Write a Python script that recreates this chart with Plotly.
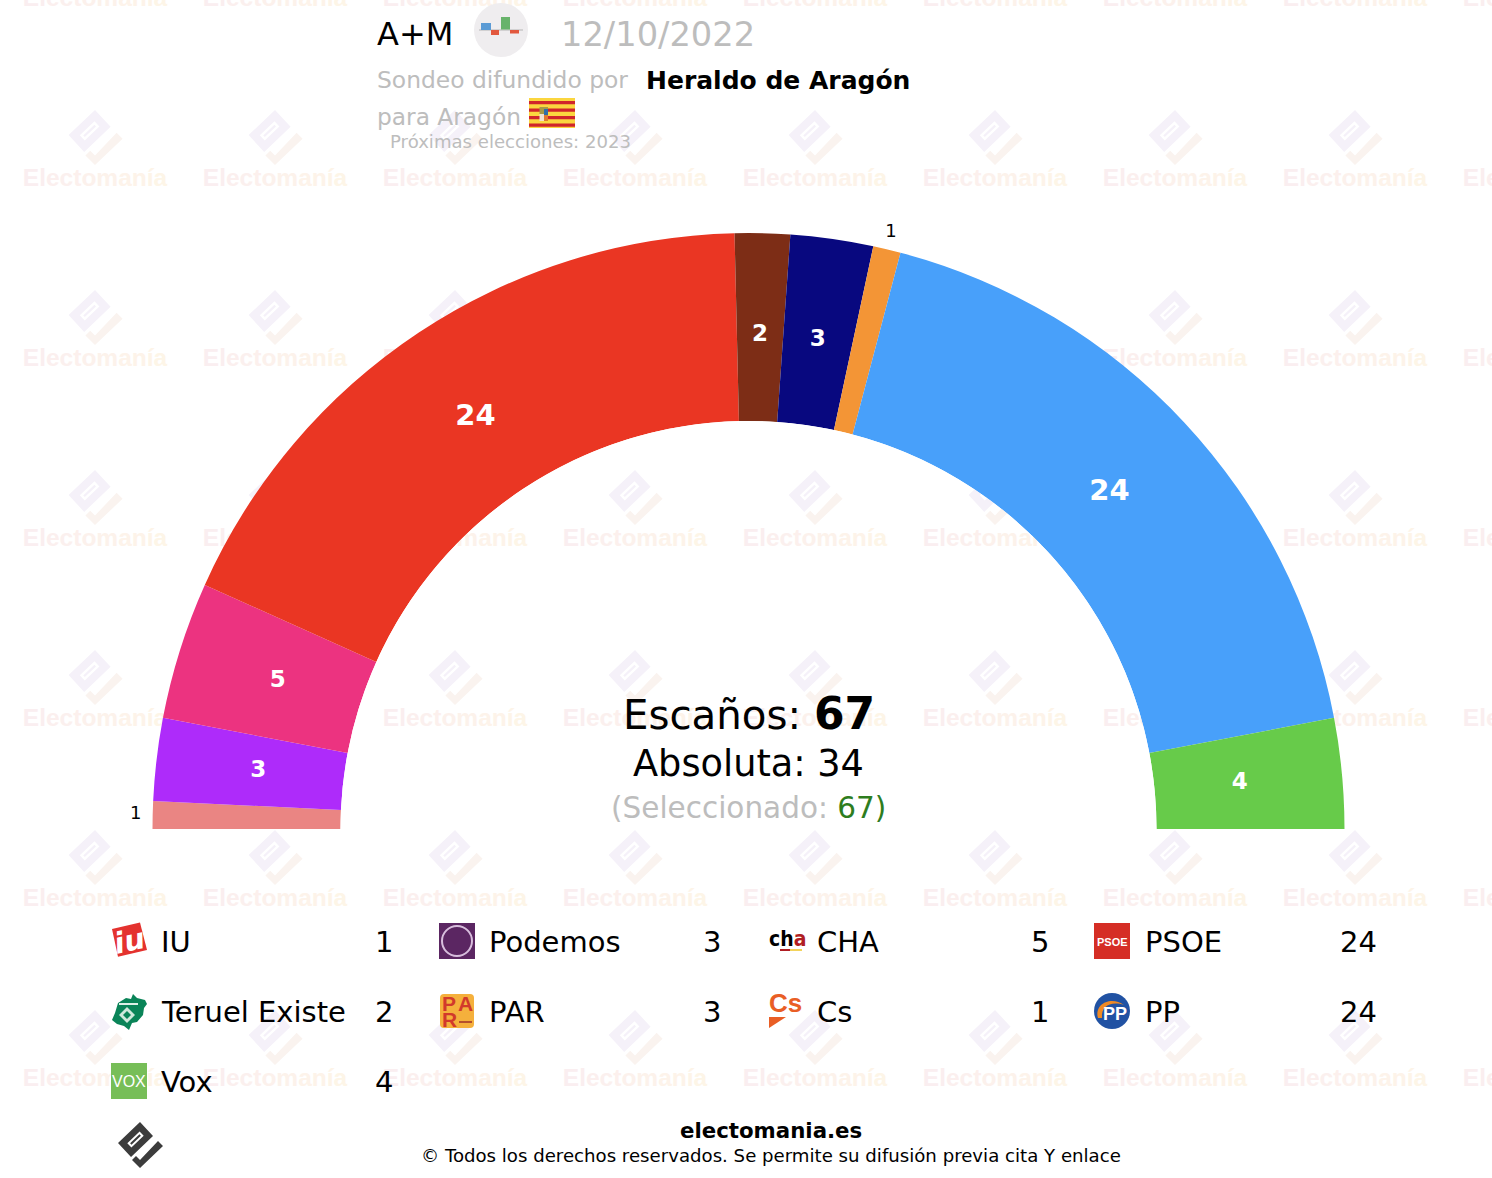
import plotly.graph_objects as go

partidos = ["IU", "Podemos", "CHA", "PSOE", "Teruel Existe", "PAR", "Cs", "PP", "Vox"]
escanos = [1, 3, 5, 24, 2, 3, 1, 24, 4]
colores = ["#EA8583", "#AE2BFA", "#EC3380", "#EA3623", "#7D2D16", "#08087F", "#F39536", "#48A0FA", "#67CB4A"]

encuestadora = "A+M"
fecha = "12/10/2022"
medio = "Heraldo de Aragón"
region = "Aragón"
proximas = "2023"
total = 67
absoluta = 34
seleccionado = 67

GRIS = "#BDBDBD"
FUENTE = "DejaVu Sans"

shapes = []
annotations = []


def texto(x, y, t, size, color="black", anchor="left", angle=0, font=FUENTE):
    annotations.append(dict(x=x, y=y, xref="x", yref="y", text=t, showarrow=False, xanchor=anchor,
                            yanchor="middle", textangle=angle, font=dict(family=font, size=size, color=color),
                            borderpad=0, borderwidth=0))


def caja(x0, y0, x1, y1, color):
    shapes.append(dict(type="rect", xref="x", yref="y", x0=x0, y0=y0, x1=x1, y1=y1,
                       fillcolor=color, line=dict(width=0), layer="above"))


def poligono(puntos, color):
    return dict(type="path", xref="x", yref="y", path=camino(puntos), fillcolor=color,
                line=dict(width=0), layer="above")


def camino(puntos):
    return "M" + " L".join(f"{x:.1f},{y:.1f}" for x, y in puntos) + " Z"


# logo de electomania: rombo con ranura y el "check" de abajo
def logo_partes(cx, cy, k):
    rombo = [(0, -23), (13, -9), (-9, 12), (-22, -2)]
    check = [(18, -4), (23, 1), (0, 23), (-8, 15), (-4, 11), (0, 15)]
    c = (-4.5, -5.5)
    a = (-0.72, 0.69)
    b = (0.69, 0.72)

    def ranura(la, an):
        return [(c[0] + s * la * a[0] + t * an * b[0], c[1] + s * la * a[1] + t * an * b[1])
                for s, t in [(1, 1), (1, -1), (-1, -1), (-1, 1)]]

    def mover(pts):
        return [(cx + k * x, cy + k * y) for x, y in pts]

    p1 = camino(mover(rombo)) + camino(mover(ranura(8.5, 3))) + camino(mover(ranura(6.5, 1)))
    p2 = camino(mover(check))
    return p1, p2


# marca de agua, va debajo del arco
wm_x = [95 + 180 * i for i in range(9)]
wm_y = [180 * j for j in range(7)]
grad = ["#FAEEF0", "#FAEEEF", "#FBEFEE", "#FBF0EE", "#FCF0ED", "#FCF1EC", "#FCF2EB", "#FDF3EA", "#FDF3E9", "#FDF4E8", "#FDF5E7"]
marca = "<b>" + "".join(f'<span style="color:{c}">{l}</span>' for l, c in zip("Electomanía", grad)) + "</b>"

tx, ty = [], []
rombos, checks = "", ""
for x in wm_x:
    for y in wm_y:
        tx.append(x)
        ty.append(y)
        if y > 0:
            p1, p2 = logo_partes(x, y - 42.5, 1.2)
            rombos += p1
            checks += p2

shapes.append(dict(type="path", xref="x", yref="y", path=rombos, fillcolor="#F5F1F9", line=dict(width=0), layer="below"))
shapes.append(dict(type="path", xref="x", yref="y", path=checks, fillcolor="#FAF3EF", line=dict(width=0), layer="below"))

fig = go.Figure()
fig.add_trace(go.Scatter(x=tx, y=ty, mode="text", text=[marca] * len(tx), textposition="middle center",
                         textfont=dict(family="Liberation Sans", size=24.5, color="#FBEFEA"),
                         hoverinfo="skip", showlegend=False))

# arco de escaños. El eje radial llega hasta 1.24 para que quepan los "1" de fuera
grados = [v * 180 / total for v in escanos]
medios = []
acum = 0
for g in grados:
    medios.append(acum + g / 2)
    acum += g

R_IN = 408
R_OUT = 596
R_MAX = 1.24
R_PX = R_IN + (R_OUT - R_IN) * R_MAX
CX = 748.5
CY = 829

fig.add_trace(go.Barpolar(r=[1] * len(escanos), base=0, theta=medios, width=grados,
                          marker=dict(color=colores, line=dict(width=0)), text=partidos,
                          hoverinfo="text", showlegend=False))

dentro = [i for i, v in enumerate(escanos) if v > 1]
fuera = [i for i, v in enumerate(escanos) if v == 1]
fig.add_trace(go.Scatterpolar(r=[0.455] * len(dentro), theta=[medios[i] for i in dentro], mode="text",
                              text=[f"<b>{escanos[i]}</b>" for i in dentro], cliponaxis=False,
                              textfont=dict(family=FUENTE, color="white", size=[29 if escanos[i] > 10 else 23 for i in dentro]),
                              hoverinfo="skip", showlegend=False))
fig.add_trace(go.Scatterpolar(r=[1.09] * len(fuera), theta=[medios[i] for i in fuera], mode="text",
                              text=[str(escanos[i]) for i in fuera], cliponaxis=False,
                              textfont=dict(family=FUENTE, color="black", size=18),
                              hoverinfo="skip", showlegend=False))

# cabecera
texto(377, 34, encuestadora, 32)
shapes.append(dict(type="circle", xref="x", yref="y", x0=474, y0=3, x1=528, y1=57, fillcolor="#EFEDEF", line=dict(width=0), layer="above"))
caja(479, 29.5, 523, 30.5, "#B5B5B5")
caja(481, 23, 491, 30, "#5B9BD5")
caja(491, 30, 499, 35, "#E2583E")
caja(501, 17, 510, 29.5, "#68B36B")
caja(510, 30, 519, 33.5, "#E2583E")
texto(561, 34, fecha, 33.7, GRIS)
texto(377, 80, "Sondeo difundido por", 23.4, GRIS)
texto(646, 80, f"<b>{medio}</b>", 25)
texto(377, 116, f"para {region}", 23.3, GRIS)
caja(529, 98, 575, 128, "#FBD63F")
for y in [101, 108.5, 116, 123.5]:
    caja(529, y, 575, y + 3.2, "#D0252B")
caja(539.5, 107, 548, 114, "#A89A45")
caja(544, 109, 548, 115, "#2F6FA8")
caja(544, 115, 548, 121, "#E07B2E")
caja(539.5, 114, 544, 121, "#F0E2D0")
texto(390, 141, f"Próximas elecciones: {proximas}", 18.1, GRIS)

# centro
texto(748.5, 713.5, f"Escaños: <b><span style='font-size:44px'>{total}</span></b>", 40.3, anchor="center")
texto(748.5, 763, f"Absoluta: {absoluta}", 36.7, anchor="center")
texto(748, 808, f"(Seleccionado: <span style='color:#2E7D1E'>{seleccionado})</span>", 29.5, GRIS, anchor="center")

# leyenda
col_icono = [111 + 328 * i for i in range(4)]
fila_y = [942, 1012, 1082]
for i, (p, v) in enumerate(zip(partidos, escanos)):
    cx = col_icono[i % 4]
    y = fila_y[i // 4]
    texto(cx + 50, y, p, 29)
    texto(cx + 282, y, str(v), 29, anchor="right")

# iconos de los partidos
shapes.append(poligono([(112, 929), (140, 922.5), (147, 950), (118, 956.7)], "#E4322F"))
texto(129, 941, "<b><i>iu</i></b>", 29, "white", anchor="center", angle=-12)

caja(439, 923, 475, 959, "#5B2662")
shapes.append(dict(type="circle", xref="x", yref="y", x0=442, y0=926, x1=472, y1=956, fillcolor="rgba(0,0,0,0)",
                   line=dict(width=2, color="#D8BEDD"), layer="above"))

annotations.append(dict(x=767, y=939, xref="x", yref="y", xanchor="left", yanchor="middle", showarrow=False,
                        text="<b>ch<span style='color:#B01E23'>a</span></b>",
                        font=dict(family="DejaVu Sans Condensed, DejaVu Sans", size=21, color="black")))
caja(780, 949, 790, 951, "#B01E23")
caja(790, 949, 802, 951, "#F3D35B")

caja(1094, 923, 1130, 959, "#D52E25")
texto(1112, 942, "<b>PSOE</b>", 11, "white", anchor="center", font="Liberation Sans")

shapes.append(poligono([(112, 1020), (115, 1013), (118, 1003), (126, 998), (131, 999), (133, 994), (137, 998), (145, 1000),
                        (147, 1004), (144, 1008), (143, 1015), (137, 1022), (132, 1023), (129, 1030), (124, 1026), (117, 1024)], "#0A8458"))
caja(119, 1003, 138, 1005, "#DDEFE6")
shapes.append(poligono([(127, 1007), (135, 1015), (127, 1023), (119, 1015)], "#CFE8DB"))
shapes.append(poligono([(127, 1011), (131, 1015), (127, 1019), (123, 1015)], "#0A8458"))

shapes.append(dict(type="path", xref="x", yref="y", layer="above", fillcolor="#F5B03C", line=dict(width=0),
                   path="M444,994 L470,994 Q474,994 474,998 L474,1024 Q474,1028 470,1028 L444,1028 Q440,1028 440,1024 L440,998 Q440,994 444,994 Z"))
texto(449, 1003, "<b>P</b>", 21, "#D2392B", anchor="center", font="Liberation Sans")
texto(465, 1003, "<b>A</b>", 21, "#D2392B", anchor="center", font="Liberation Sans")
texto(449, 1019, "<b>R</b>", 21, "#D2392B", anchor="center", font="Liberation Sans")
caja(459, 1021, 472, 1023, "#B5502C")

texto(785, 1003, "<b>Cs</b>", 26, "#E95E25", anchor="center", font="Liberation Sans")
shapes.append(poligono([(769, 1017), (786, 1017), (769, 1028)], "#E95E25"))

shapes.append(dict(type="circle", xref="x", yref="y", x0=1094, y0=993, x1=1130, y1=1029, fillcolor="#2152A3", line=dict(width=0), layer="above"))
shapes.append(dict(type="path", xref="x", yref="y", path="M1098,1018 C1094,1003 1112,996 1124,1005 C1112,1001 1101,1005 1102,1018 Z",
                   fillcolor="#F08A24", line=dict(width=0), layer="above"))
texto(1114.5, 1014, "<b>PP</b>", 18, "white", anchor="center", font="Liberation Sans")

caja(111, 1063, 147, 1099, "#77BE58")
texto(129, 1081, "VOX", 16, "white", anchor="center", font="Liberation Sans")

# pie
p1, p2 = logo_partes(140, 1145, 1)
shapes.append(dict(type="path", xref="x", yref="y", path=p1, fillcolor="#3C3C3C", line=dict(width=0), layer="above"))
shapes.append(dict(type="path", xref="x", yref="y", path=p2, fillcolor="#3C3C3C", line=dict(width=0), layer="above"))
texto(770.5, 1130, "<b>electomania.es</b>", 21.3, anchor="center")
texto(770.5, 1155, "© Todos los derechos reservados. Se permite su difusión previa cita Y enlace", 18.15, anchor="center")

fig.update_layout(
    width=1492, height=1178,
    margin=dict(l=0, r=0, t=0, b=0),
    paper_bgcolor="white", plot_bgcolor="white",
    showlegend=False,
    xaxis=dict(range=[0, 1492], visible=False, fixedrange=True),
    yaxis=dict(range=[1178, 0], visible=False, fixedrange=True),
    polar=dict(
        domain=dict(x=[(CX - R_PX) / 1492, (CX + R_PX) / 1492], y=[1 - CY / 1178, 1 - (CY - R_PX) / 1178]),
        sector=[0, 180], hole=R_IN / R_PX, bgcolor="rgba(0,0,0,0)",
        radialaxis=dict(range=[0, R_MAX], visible=False),
        angularaxis=dict(direction="clockwise", rotation=180, visible=False),
    ),
    shapes=shapes,
    annotations=annotations,
)

fig.write_html("out.html", config=dict(displayModeBar=False), post_script="document.body.style.margin='0';")
